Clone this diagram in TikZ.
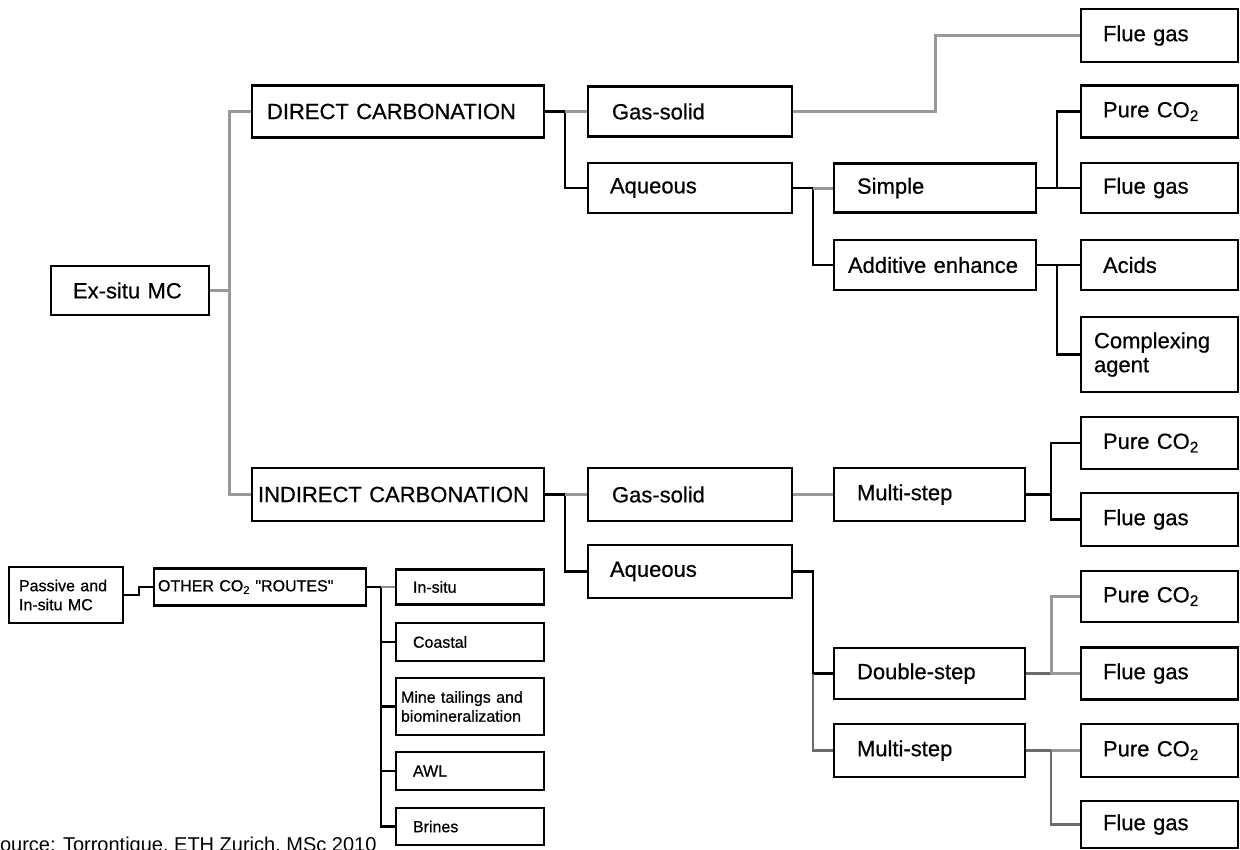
\documentclass[tikz,border=0pt]{standalone}
\usepackage{fontspec}
\setmainfont{Liberation Sans}
\newfontfamily\heavy{Liberation Sans}[FakeBold=0.6]
\begin{document}
\begin{tikzpicture}[x=1pt,y=-1pt,
  bx/.style={draw=black, line width=2.8pt, rectangle, align=left,
    font=\heavy\fontsize{22}{24}\selectfont, inner ysep=0pt},
  sbx/.style={draw=black, line width=2.3pt, rectangle, align=left,
    font=\heavy\fontsize{16}{19}\selectfont, inner ysep=0pt},
  lk/.style={draw=black, line width=2.6pt},
  gl/.style={draw=black!40, line width=3pt},
  dg/.style={draw=black!58, line width=2.4pt},
  slk/.style={draw=black, line width=2.2pt},
  sgl/.style={draw=black!45, line width=2.2pt}]
\useasboundingbox (0,0) rectangle (1240,849);
\clip (0,0) rectangle (1240,849);

% ---- main tree: first two levels
\node[bx, minimum height=49pt, text width=114pt, inner xsep=22pt] (exsitu) at (130,290.5) {Ex-situ MC};
\node[bx, minimum height=52pt, text width=262pt, inner xsep=15pt] (direct) at (398,111.5) {DIRECT CARBONATION};
\node[bx, minimum height=53pt, text width=280pt, inner xsep=6pt] (indirect) at (398,494.5) {INDIRECT CARBONATION};

\node[bx, minimum height=50pt, text width=156pt, inner xsep=24pt] (gs1) at (690,111.5) {Gas-solid};
\node[bx, minimum height=50pt, text width=160pt, inner xsep=22pt] (aq1) at (690,188) {Aqueous};
\node[bx, minimum height=53pt, text width=156pt, inner xsep=24pt] (gs2) at (690,494.5) {Gas-solid};
\node[bx, minimum height=53pt, text width=160pt, inner xsep=22pt] (aq2) at (690,571.5) {Aqueous};

% ---- process routes
\node[bx, minimum height=49pt, text width=156pt, inner xsep=23pt] (simple) at (935,188) {Simple};
\node[bx, minimum height=50pt, text width=174pt, inner xsep=14pt] (additive) at (935,265) {Additive enhance};
\node[bx, minimum height=53pt, text width=145pt, inner xsep=23pt] (ms1) at (929.5,494.5) {Multi-step};
\node[bx, minimum height=51pt, text width=145pt, inner xsep=23pt] (dbl) at (929.5,673.5) {Double-step};
\node[bx, minimum height=53pt, text width=145pt, inner xsep=23pt] (ms2) at (929.5,750.5) {Multi-step};

% ---- CO2 sources and additives (right column)
\node[bx, minimum height=53pt, text width=113pt, inner xsep=22pt] (fg1) at (1159.5,35.5) {Flue gas};
\node[bx, minimum height=52pt, text width=113pt, inner xsep=22pt] (pc1) at (1159.5,111.5) {Pure CO\textsubscript{2}};
\node[bx, minimum height=50pt, text width=113pt, inner xsep=22pt] (fg2) at (1159.5,188) {Flue gas};
\node[bx, minimum height=50pt, text width=113pt, inner xsep=22pt] (acids) at (1159.5,265) {Acids};
\node[bx, minimum height=75pt, text width=131pt, inner xsep=13pt] (complex) at (1159.5,354.5) {Complexing\\agent};
\node[bx, minimum height=52pt, text width=113pt, inner xsep=22pt] (pc2) at (1159.5,443) {Pure CO\textsubscript{2}};
\node[bx, minimum height=53pt, text width=113pt, inner xsep=22pt] (fg3) at (1159.5,519.5) {Flue gas};
\node[bx, minimum height=51pt, text width=113pt, inner xsep=22pt] (pc3) at (1159.5,596.5) {Pure CO\textsubscript{2}};
\node[bx, minimum height=52pt, text width=113pt, inner xsep=22pt] (fg4) at (1159.5,673.5) {Flue gas};
\node[bx, minimum height=53pt, text width=113pt, inner xsep=22pt] (pc4) at (1159.5,750.5) {Pure CO\textsubscript{2}};
\node[bx, minimum height=47pt, text width=113pt, inner xsep=22pt] (fg5) at (1159.5,824.5) {Flue gas};

% ---- junction columns
\coordinate (t0) at (229,0);
\coordinate (j1) at (565,0);
\coordinate (j2) at (813,0);
\coordinate (bend) at (935,0);
\coordinate (j3) at (1057,0);
\coordinate (j4) at (1051,0);

% ---- connectors, upper branch
\draw[gl] (exsitu.east) -- (exsitu.east -| t0);
\draw[gl] (direct.west) -- (direct.west -| t0) -- (indirect.west -| t0) -- (indirect.west);
\draw[lk] (direct.east) -- (direct.east -| j1) |- (aq1.west);
\draw[gl] (direct.east -| j1) -- (gs1.west);
\draw[gl] (gs1.east) -- (gs1.east -| bend) |- (fg1.west);
\draw[lk] (aq1.east) -- (aq1.east -| j2) |- (additive.west);
\draw[gl] (aq1.east -| j2) -- (simple.west);
\draw[lk] (simple.east) -- (simple.east -| j3) |- (pc1.west);
\draw[lk] (simple.east -| j3) -- (fg2.west);
\draw[lk] (additive.east) -- (additive.east -| j3) -- (acids.west);
\draw[lk] (additive.east -| j3) |- (complex.west);

% ---- connectors, lower branch
\draw[lk] (indirect.east) -- (indirect.east -| j1) |- (aq2.west);
\draw[gl] (indirect.east -| j1) -- (gs2.west);
\draw[gl] (gs2.east) -- (ms1.west);
\draw[lk] (ms1.east) -- (ms1.east -| j4) |- (pc2.west);
\draw[lk] (ms1.east -| j4) |- (fg3.west);
\draw[lk] (aq2.east) -- (aq2.east -| j2) |- (dbl.west);
\draw[dg] (dbl.west -| j2) |- (ms2.west);
\draw[dg] (dbl.east) -- (dbl.east -| j4);
\draw[gl] (dbl.east -| j4) |- (pc3.west);
\draw[gl] (dbl.east -| j4) -- (fg4.west);
\draw[dg] (ms2.east) -- (ms2.east -| j4);
\draw[gl] (ms2.east -| j4) -- (pc4.west);
\draw[dg] (ms2.east -| j4) |- (fg5.west);

% ---- other CO2 routes
\node[sbx, minimum height=56pt, text width=94pt, inner xsep=10pt] (passive) at (66,595) {Passive and\\In-situ MC};
\node[sbx, minimum height=37pt, text width=204pt, inner xsep=4pt] (other) at (260,587) {OTHER CO\textsubscript{2} \textquotedbl ROUTES\textquotedbl};
\node[sbx, minimum height=35pt, text width=114pt, inner xsep=17pt] (insitu) at (470,587) {In-situ};
\node[sbx, minimum height=38pt, text width=114pt, inner xsep=17pt] (coastal) at (470,642) {Coastal};
\node[sbx, minimum height=57pt, text width=138pt, inner xsep=5pt] (mine) at (470,706.5) {Mine tailings and\\biomineralization};
\node[sbx, minimum height=38pt, text width=114pt, inner xsep=17pt] (awl) at (470,771) {AWL};
\node[sbx, minimum height=37pt, text width=114pt, inner xsep=17pt] (brines) at (470,826.5) {Brines};

\coordinate (pj) at (139,0);
\coordinate (oj) at (381,0);
\draw[slk] (passive.east) -- (passive.east -| pj) -- (pj |- other.west) -- (other.west);
\draw[slk] (other.east) -- (other.east -| oj) |- (brines.west);
\draw[sgl] (other.east -| oj) -- (insitu.west);
\draw[slk] (coastal.west -| oj) -- (coastal.west);
\draw[slk] (mine.west -| oj) -- (mine.west);
\draw[slk] (awl.west -| oj) -- (awl.west);

% ---- source line
\node[anchor=base west, inner sep=0pt, font=\fontsize{20}{22}\selectfont] (src) at (-13.5,851.5) {Source: Torrontique, ETH Zurich, MSc 2010};
\end{tikzpicture}
\end{document}
